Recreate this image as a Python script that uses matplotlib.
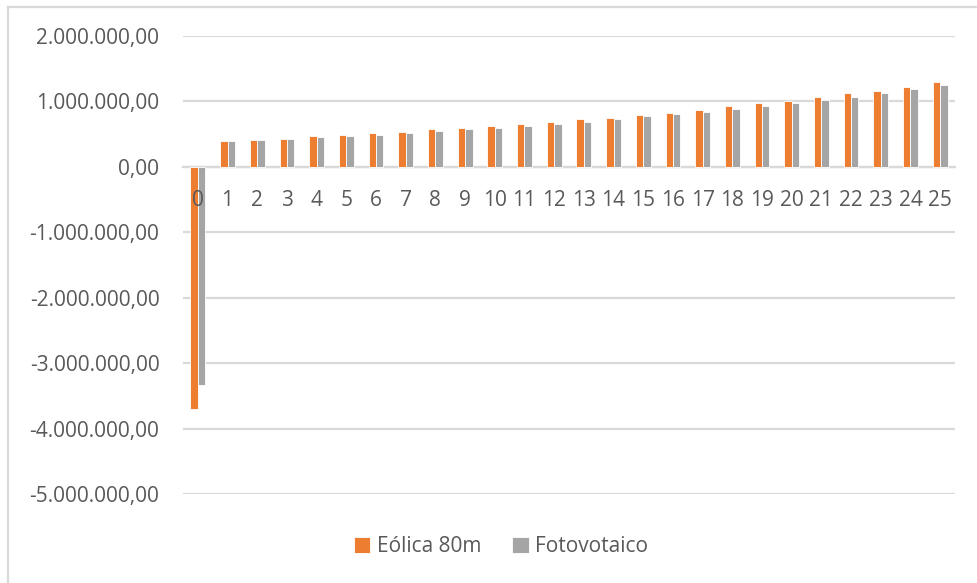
import matplotlib
matplotlib.use("Agg")
import matplotlib.pyplot as plt
from matplotlib.ticker import FuncFormatter, MultipleLocator
from matplotlib.lines import Line2D
import numpy as np

categories = [str(i) for i in range(26)]
eolica = [-3700000, 395000, 410000, 430000, 470000, 490000, 510000, 530000, 574000, 595000,
          630000, 650000, 687000, 728000, 749000, 790000, 830000, 867000, 928000, 970000,
          1010000, 1067000, 1128000, 1164000, 1226000, 1300000]
fotovoltaico = [-3340000, 395000, 410000, 430000, 450000, 470000, 490000, 510000, 554000, 574000,
                590000, 630000, 650000, 687000, 728000, 770000, 810000, 846000, 887000, 928000,
                970000, 1026000, 1067000, 1128000, 1185000, 1246000]
series_names = ["Eólica 80m", "Fotovotaico"]

ORANGE = "#ED7D31"
GRAY = "#A5A5A5"
GRID = "#D9D9D9"
TEXT = "#595959"
FONT = "Open Sans"

plt.rcParams['font.family'] = [FONT, 'DejaVu Sans']

W, H = 977, 583
fig = plt.figure(figsize=(W / 100, H / 100), dpi=100)
ax = fig.add_axes([183 / W, 1 - 494 / H, (955 - 183) / W, (494 - 36) / H])

x = np.arange(len(categories))
bw = 0.25
ax.bar(x - bw / 2, eolica, width=bw, color=ORANGE, edgecolor="white", linewidth=0.6, zorder=3,
       label=series_names[0])
ax.bar(x + bw / 2, fotovoltaico, width=bw, color=GRAY, edgecolor="white", linewidth=0.6, zorder=3,
       label=series_names[1])

ax.set_xlim(-0.5, len(categories) - 0.5)
ax.set_ylim(-5000000, 2000000)
ax.yaxis.set_major_locator(MultipleLocator(1000000))


def br_fmt(v, pos):
    s = f"{abs(v):,.2f}"
    s = s.replace(",", "X").replace(".", ",").replace("X", ".")
    return ("-" if v < 0 else "") + s


ax.yaxis.set_major_formatter(FuncFormatter(br_fmt))
ax.grid(axis="y", color=GRID, linewidth=1.6, zorder=0)
ax.set_axisbelow(True)
for s in ["top", "right", "left"]:
    ax.spines[s].set_visible(False)
ax.spines["bottom"].set_position(("data", 0))
ax.spines["bottom"].set_color(GRID)
ax.spines["bottom"].set_linewidth(1.6)
ax.spines["bottom"].set_zorder(1)
ax.set_xticks(x)
ax.set_xticklabels([])
ax.tick_params(axis="x", length=0)
ax.tick_params(axis="y", length=0, pad=17, labelsize=15, labelcolor=TEXT)

# category labels next to the zero axis, drawn above the bars
for xi, lab in zip(x, categories):
    ax.annotate(lab, xy=(xi, 0), xytext=(0, -17), textcoords="offset points",
                ha="center", va="top", fontsize=15, color=TEXT, zorder=5,
                annotation_clip=False)

fig.legend(loc="center", bbox_to_anchor=(501 / W, 1 - 547 / H), ncol=2, frameon=False,
           fontsize=15, labelcolor=TEXT, handlelength=0.8, handleheight=0.8,
           handletextpad=0.3, columnspacing=1.5)

# chart border
fig.add_artist(Line2D([8 / W, 8 / W], [0, 1 - 7 / H], transform=fig.transFigure, color=GRID, linewidth=1.6))
fig.add_artist(Line2D([8 / W, 1], [1 - 7 / H, 1 - 7 / H], transform=fig.transFigure, color=GRID, linewidth=1.6))

fig.savefig("out.png", dpi=100)
